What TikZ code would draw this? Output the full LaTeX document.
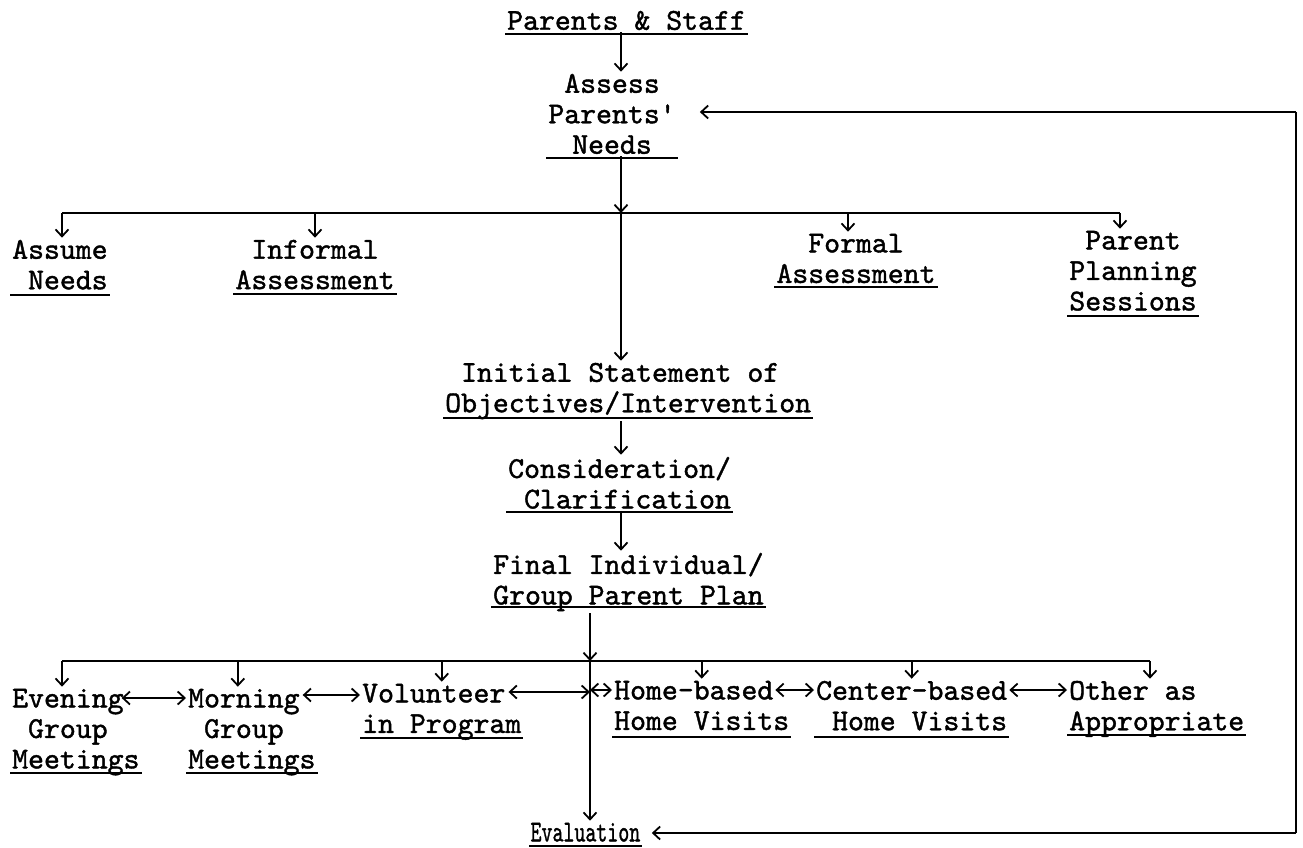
\documentclass[tikz,border=0pt]{standalone}
\usepackage{fontspec}
\newfontfamily\twfont[Extension=.otf,FakeBold=1.3]{lmmono10-regular}
\usetikzlibrary{arrows.meta}
\tikzset{
  txt/.style={font=\twfont\fontsize{30.3}{30.5}\selectfont, inner xsep=2pt, inner ysep=2pt, align=left, anchor=north west},
  ctxt/.style={txt, align=center, anchor=north},
  ln/.style={line width=1.8pt},
  arr/.style={ln, -{Straight Barb[length=7pt,width=13pt]}},
  dbl/.style={ln, {Straight Barb[length=7pt,width=13pt]}-{Straight Barb[length=7pt,width=13pt]}},
  ul/.style={line width=1.6pt},
}
\newcommand\ulineat[2]{\coordinate (u) at (0,#2); \draw[ul] (#1.west |- u) -- (#1.east |- u);}
\begin{document}
\begin{tikzpicture}[x=1pt,y=-1pt]
\useasboundingbox (0,0) rectangle (1303,848);
\fill[white] (0,0) rectangle (1303,848);

% nodes
\node[txt] (ps) at (505,8.7) {Parents \& Staff};
\node[ctxt] (assess) at (612,71.7) {Assess\\Parents'\\Needs};
\node[txt] (assume) at (10,237.7) {Assume\\~Needs};
\node[ctxt] (informal) at (315,237.7) {Informal\\Assessment};
\node[ctxt] (formal) at (856,231.7) {Formal\\Assessment};
\node[ctxt] (pps) at (1133,228.7) {Parent\\Planning\\Sessions};
\node[txt] (init) at (443,360.7) {~Initial Statement of\\Objectives/Intervention};
\node[txt] (consid) at (506,454.7) {Consideration/\\~Clarification};
\node[txt] (final) at (491,550.7) {Final Individual/\\Group Parent Plan};
\node[txt] (eve) at (10,686.7) {Evening\\~Group\\Meetings};
\node[txt] (morn) at (186,686.7) {Morning\\~Group\\Meetings};
\node[txt] (vol) at (360,681.7) {Volunteer\\in Program};
\node[txt] (home) at (612,678.7) {Home-based\\Home Visits};
\node[txt] (cent) at (814,678.7) {Center-based\\~Home Visits};
\node[txt] (other) at (1067,678.7) {Other as\\Appropriate};
\node[txt, xscale=0.69, transform shape] (eval) at (529,820.7) {Evaluation};

% underlines
\ulineat{ps}{34}
\ulineat{assess}{158}
\ulineat{assume}{295}
\ulineat{informal}{294}
\ulineat{formal}{287}
\ulineat{pps}{316}
\ulineat{init}{418}
\ulineat{consid}{512}
\ulineat{final}{607}
\ulineat{eve}{773}
\ulineat{morn}{773}
\ulineat{vol}{738}
\ulineat{home}{737}
\ulineat{cent}{737}
\ulineat{other}{735}
\ulineat{eval}{846}

% junction coordinates
\coordinate (j1) at (621,213);
\coordinate (b1) at (62,213);
\coordinate (b2) at (1120,213);
\coordinate (j2) at (590,661);
\coordinate (c1) at (62,661);
\coordinate (c2) at (1150,661);
\coordinate (rt) at (1296,112);
\coordinate (rb) at (1296,833);
\coordinate (r1) at (0,698);
\coordinate (r2) at (0,695);
\coordinate (r3) at (0,692);
\coordinate (r4) at (0,690);

% upper part
\draw[arr] (ps.south -| j1) -- (assess.north -| j1);
\draw[arr] (assess.south -| j1) -- (j1);
\draw[ln] (b1) -- (b2);
\draw[arr] (j1) -- (init.north -| j1);
\draw[arr] (b1) -- (b1 |- assume.north);
\draw[arr] (informal.north |- b1) -- (informal.north);
\draw[arr] ([xshift=-8pt]formal.north |- b1) -- ([xshift=-8pt]formal.north);
\draw[arr] (b2) -- (b2 |- pps.north);
\draw[arr] (init.south -| j1) -- (consid.north -| j1);
\draw[arr] (consid.south -| j1) -- (final.north -| j1);

% lower part
\draw[arr] (final.south -| j2) -- (j2);
\draw[arr] (j2) -- (j2 |- eval.north);
\draw[ln] (c1) -- (c2);
\draw[arr] (c1) -- (c1 |- eve.north);
\draw[arr] ([xshift=-14pt]morn.north |- c1) -- ([xshift=-14pt]morn.north);
\draw[arr] (vol.north |- c1) -- (vol.north);
\draw[arr] (home.north |- c1) -- (home.north);
\draw[arr] (cent.north |- c1) -- (cent.north);
\draw[arr] (c2) -- (c2 |- other.north);

% row connectors
\draw[dbl] ([xshift=-20pt]eve.east |- r1) -- (morn.west |- r1);
\draw[dbl] ([xshift=-15pt]morn.east |- r2) -- (vol.west |- r2);
\draw[dbl] ([xshift=-15pt]vol.east |- r3) -- (j2 |- r3);
\draw[dbl] (j2 |- r4) -- (home.west |- r4);
\draw[dbl] ([xshift=-16pt]home.east |- r4) -- (cent.west |- r4);
\draw[dbl] (cent.east |- r4) -- (other.west |- r4);

% feedback loop
\draw[ln] (rt) -- (rb);
\draw[arr] (rt) -- ([xshift=22pt]assess.east |- rt);
\draw[arr] (rb) -- ([xshift=10pt]eval.east |- rb);
\end{tikzpicture}
\end{document}
